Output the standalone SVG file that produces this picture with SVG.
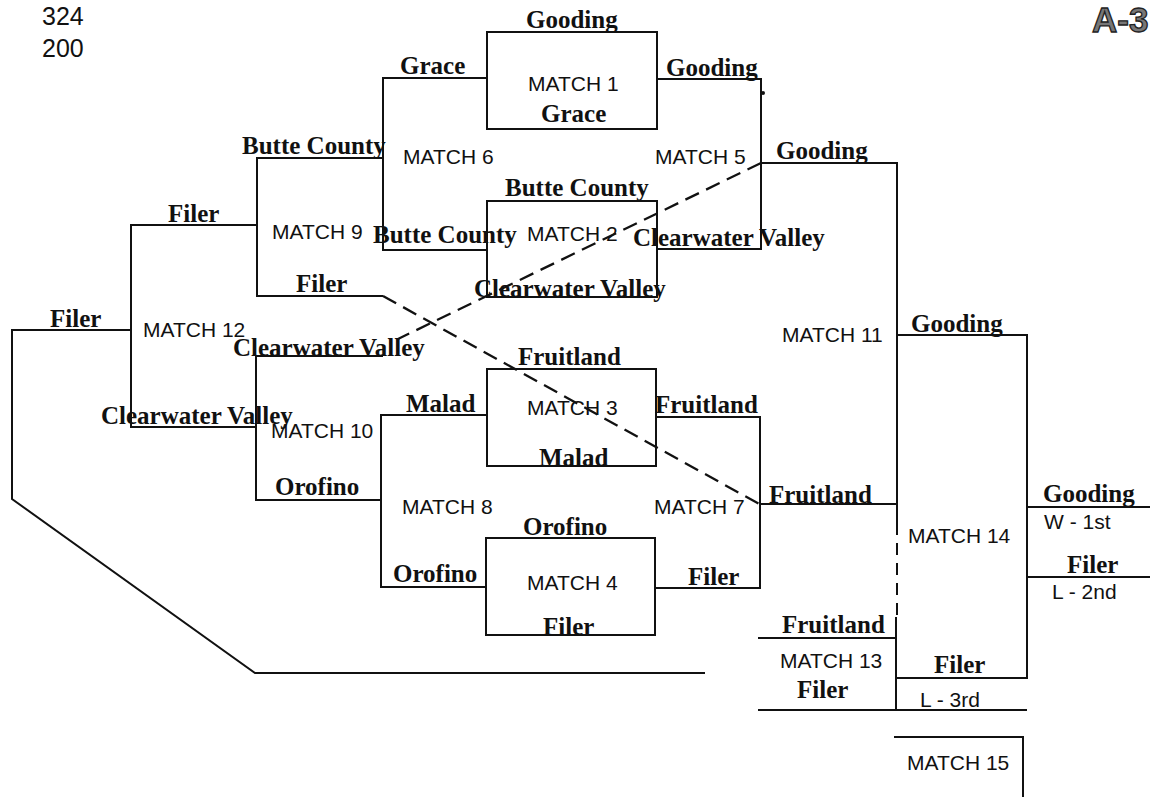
<svg xmlns="http://www.w3.org/2000/svg" width="1167" height="797" viewBox="0 0 1167 797">
<style>
.ln{fill:none;stroke:#111;stroke-width:2;stroke-linejoin:miter}
.ds{fill:none;stroke:#111;stroke-width:2.3;stroke-dasharray:15 8}
.bx{fill:none;stroke:#111;stroke-width:2}
.t{font-family:"Liberation Serif","Times New Roman",serif;font-weight:bold;font-size:25px;fill:#111}
.m{font-family:"Liberation Sans",Arial,sans-serif;font-size:21px;fill:#111}
.s{font-family:"Liberation Sans",Arial,sans-serif;font-size:21px;fill:#111}
</style>
<rect width="1167" height="797" fill="#fff"/>
<g id="header">
<text class="m" x="42" y="25" style="font-size:25px">324</text>
<text class="m" x="42" y="57" style="font-size:25px">200</text>
<text x="1092" y="32" style="font-family:'Liberation Sans',Arial,sans-serif;font-weight:bold;font-size:35px;fill:#777;stroke:#222;stroke-width:1.3">A-3</text>
</g>
<g id="connectors">
<path class="ln" d="M487,78 H383 V250 H487"/>
<path class="ln" d="M657,79 H761 V249 H657"/>
<circle cx="763" cy="93" r="2" fill="#111"/>
<path class="ln" d="M487,415 H381 V587 H486"/>
<path class="ln" d="M656,417 H760 V588 H655"/>
<path class="ln" d="M383,158 H257 V296 H383"/>
<path class="ln" d="M383,356 H256 V500 H381"/>
<path class="ln" d="M257,225 H131 V427 H256"/>
<path class="ln" d="M761,163 H897 V523"/>
<path class="ln" d="M760,504 H897"/>
<path class="ds" d="M897,523 V617" style="stroke-width:2;stroke-dasharray:12 8"/>
<path class="ln" d="M896,617 V710"/>
<path class="ln" d="M897,335 H1027 V678 H896"/>
<path class="ln" d="M1027,507 H1150"/>
<path class="ln" d="M1027,577 H1150"/>
<path class="ln" d="M758,638 H896"/>
<path class="ln" d="M758,710 H1027"/>
<path class="ln" d="M894,737 H1023 V797"/>
<path class="ln" d="M131,330 H12 V499 L255,673 H705"/>
<path class="ds" d="M383,296 L761,505"/>
<path class="ds" d="M761,163 L398,339"/>
</g>
<g id="match1">
<rect class="bx" x="487" y="32" width="170" height="97"/>
<text class="t" x="526" y="28">Gooding</text>
<text class="m" x="528" y="91">MATCH 1</text>
<text class="t" x="541" y="122">Grace</text>
</g>
<g id="match2">
<rect class="bx" x="487" y="201" width="170" height="96"/>
<text class="t" x="505" y="196">Butte County</text>
<text class="m" x="527" y="241">MATCH 2</text>
<text class="t" x="474" y="297">Clearwater Valley</text>
</g>
<g id="match3">
<rect class="bx" x="487" y="369" width="169" height="97"/>
<text class="t" x="518" y="365">Fruitland</text>
<text class="m" x="527" y="415">MATCH 3</text>
<text class="t" x="539" y="466">Malad</text>
</g>
<g id="match4">
<rect class="bx" x="486" y="538" width="169" height="97"/>
<text class="t" x="523" y="535">Orofino</text>
<text class="m" x="527" y="590">MATCH 4</text>
<text class="t" x="543" y="635">Filer</text>
</g>
<g id="match5">
<text class="t" x="666" y="76">Gooding</text>
<text class="m" x="655" y="164">MATCH 5</text>
<text class="t" x="633" y="246">Clearwater Valley</text>
</g>
<g id="match6">
<text class="t" x="400" y="74">Grace</text>
<text class="m" x="403" y="164">MATCH 6</text>
<text class="t" x="373" y="243">Butte County</text>
</g>
<g id="match7">
<text class="t" x="655" y="413">Fruitland</text>
<text class="m" x="654" y="514">MATCH 7</text>
<text class="t" x="688" y="585">Filer</text>
</g>
<g id="match8">
<text class="t" x="406" y="412">Malad</text>
<text class="m" x="402" y="514">MATCH 8</text>
<text class="t" x="393" y="582">Orofino</text>
</g>
<g id="match9">
<text class="t" x="242" y="154">Butte County</text>
<text class="m" x="272" y="239">MATCH 9</text>
<text class="t" x="296" y="292">Filer</text>
</g>
<g id="match10">
<text class="t" x="233" y="356">Clearwater Valley</text>
<text class="m" x="271" y="438">MATCH 10</text>
<text class="t" x="275" y="495">Orofino</text>
</g>
<g id="match11">
<text class="t" x="776" y="159">Gooding</text>
<text class="m" x="782" y="342">MATCH 11</text>
<text class="t" x="769" y="503">Fruitland</text>
</g>
<g id="match12">
<text class="t" x="168" y="222">Filer</text>
<text class="m" x="143" y="337">MATCH 12</text>
<text class="t" x="101" y="424">Clearwater Valley</text>
<text class="t" x="50" y="327">Filer</text>
</g>
<g id="match13">
<text class="t" x="782" y="633">Fruitland</text>
<text class="m" x="780" y="668">MATCH 13</text>
<text class="t" x="797" y="698">Filer</text>
</g>
<g id="match14">
<text class="t" x="911" y="332">Gooding</text>
<text class="m" x="908" y="543">MATCH 14</text>
<text class="t" x="934" y="673">Filer</text>
<text class="s" x="920" y="707">L - 3rd</text>
</g>
<g id="results">
<text class="t" x="1043" y="502">Gooding</text>
<text class="s" x="1044" y="529">W - 1st</text>
<text class="t" x="1067" y="573">Filer</text>
<text class="s" x="1052" y="599">L - 2nd</text>
</g>
<g id="match15">
<text class="m" x="907" y="770">MATCH 15</text>
</g>
</svg>
